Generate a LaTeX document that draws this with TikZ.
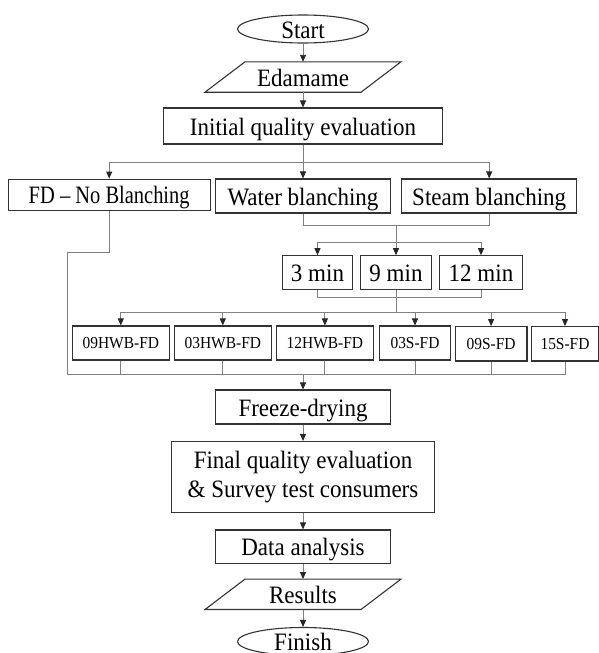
\documentclass[tikz,border=0pt]{standalone}
\usepackage{fontspec}
\setmainfont{Liberation Serif}[FakeStretch=0.92]
\usetikzlibrary{shapes.geometric,arrows.meta,calc}
\begin{document}
\begin{tikzpicture}[x=1pt,y=-1pt,
  big/.style={font=\fontsize{25}{29.5}\selectfont, text height=18.5pt, text depth=0.5pt},
  small/.style={font=\fontsize{16.8}{20}\selectfont, text height=12.2pt, text depth=0.3pt},
  box/.style={draw=black!80, line width=1.1pt, rectangle, inner sep=0pt},
  edge/.style={draw=black!80, line width=1.1pt},
  oval/.style={draw=black!80, line width=1.1pt, ellipse, inner sep=0pt, minimum width=131pt, minimum height=28pt},
  conn/.style={draw=black!50, line width=0.9pt},
  arr/.style={conn, -{Triangle[length=7pt,width=6pt,color=black!85]}},
]
\useasboundingbox (0,0) rectangle (599,653);

% main column
\node[oval,big] (start) at (303,29) {Start};
\node[big, inner sep=0pt, minimum width=117pt, minimum height=30pt] (ed) at (303,77) {Edamame};
\draw[edge] ($(ed.north)+(-58,0)$) -- ($(ed.north)+(98,0)$) -- ($(ed.south)+(58,0)$) -- ($(ed.south)+(-98,0)$) -- cycle;
\node[box,big,minimum width=279.5pt,minimum height=36pt] (init) at (303,126) {Initial quality evaluation};

% first split
\node[box,big,minimum width=201.7pt,minimum height=31pt] (fd) at (109.2,194.6) {\scalebox{0.89}[1]{FD – No Blanching}};
\node[box,big,minimum width=174.5pt,minimum height=34pt] (water) at (303,196) {Water blanching};
\node[box,big,minimum width=175pt,minimum height=34pt] (steam) at (489.2,196) {Steam blanching};

% times
\node[box,big,minimum width=70.4pt,minimum height=33.5pt] (m3) at (317.5,272.5) {3 min};
\node[box,big,minimum width=70.6pt,minimum height=33.5pt] (m9) at (396,272.5) {9 min};
\node[box,big,minimum width=83.2pt,minimum height=33.5pt] (m12) at (481,272.5) {12 min};

% treatments
\node[box,small,minimum width=96.5pt,minimum height=34pt] (s1) at (120.8,343) {09HWB-FD};
\node[box,small,minimum width=97.5pt,minimum height=34pt] (s2) at (222.8,343) {03HWB-FD};
\node[box,small,minimum width=97.3pt,minimum height=34pt] (s3) at (324.9,343) {12HWB-FD};
\node[box,small,minimum width=71.5pt,minimum height=34pt] (s4) at (415,343) {03S-FD};
\node[box,small,minimum width=71.8pt,minimum height=34.3pt] (s5) at (491.1,343.8) {09S-FD};
\node[box,small,minimum width=66.7pt,minimum height=34.3pt] (s6) at (565,343.8) {15S-FD};

% lower column
\node[box,big,minimum width=174.5pt,minimum height=34pt] (freeze) at (303,407) {Freeze-drying};
\node[box,big,minimum width=263.7pt,minimum height=71pt,align=center,text height=,text depth=] (final) at (303,477) {Final quality evaluation\\\& Survey test consumers};
\node[box,big,minimum width=174.5pt,minimum height=33.5pt] (data) at (303,546.7) {Data analysis};
\node[big, inner sep=0pt, minimum width=117pt, minimum height=30pt] (res) at (303,594.3) {Results};
\draw[edge] ($(res.north)+(-58,0)$) -- ($(res.north)+(98,0)$) -- ($(res.south)+(58,0)$) -- ($(res.south)+(-98,0)$) -- cycle;
\node[oval,big] (finish) at (303,641.5) {Finish};

% junction points
\coordinate (b1) at (303,162);
\coordinate (m1) at (396,225);
\coordinate (d1) at (396,242.7);
\coordinate (m2) at (396,297.3);
\coordinate (d2) at (396,312.5);
\coordinate (k1) at (67.5,252.7);
\coordinate (j) at (303,374.5);

% connectors
\draw[arr] (start) -- (ed.north);
\draw[arr] (ed.south) -- (init);
\draw[conn] (init) -- (b1);
\draw[arr] (b1) -| (fd);
\draw[arr] (b1) -- (water);
\draw[arr] (b1) -| (steam);

\draw[conn] (water) |- (m1);
\draw[conn] (steam) |- (m1);
\draw[conn] (m1) -- (d1);
\draw[arr] (d1) -| (m3);
\draw[arr] (d1) -- (m9);
\draw[arr] (d1) -| (m12);

\draw[conn] (m3) |- (m2) -| (m12);
\draw[conn] (m9) -- (d2);
\foreach \s in {s1,s2,s3,s4,s5,s6}{
  \draw[arr] (d2) -| (\s);
  \draw[conn] (\s) |- (j);
}
\draw[conn] (fd) |- (k1) |- (j);
\draw[arr] (j) -- (freeze);
\draw[arr] (freeze) -- (final);
\draw[arr] (final) -- (data);
\draw[arr] (data) -- (res.north);
\draw[arr] (res.south) -- (finish);
\end{tikzpicture}
\end{document}
